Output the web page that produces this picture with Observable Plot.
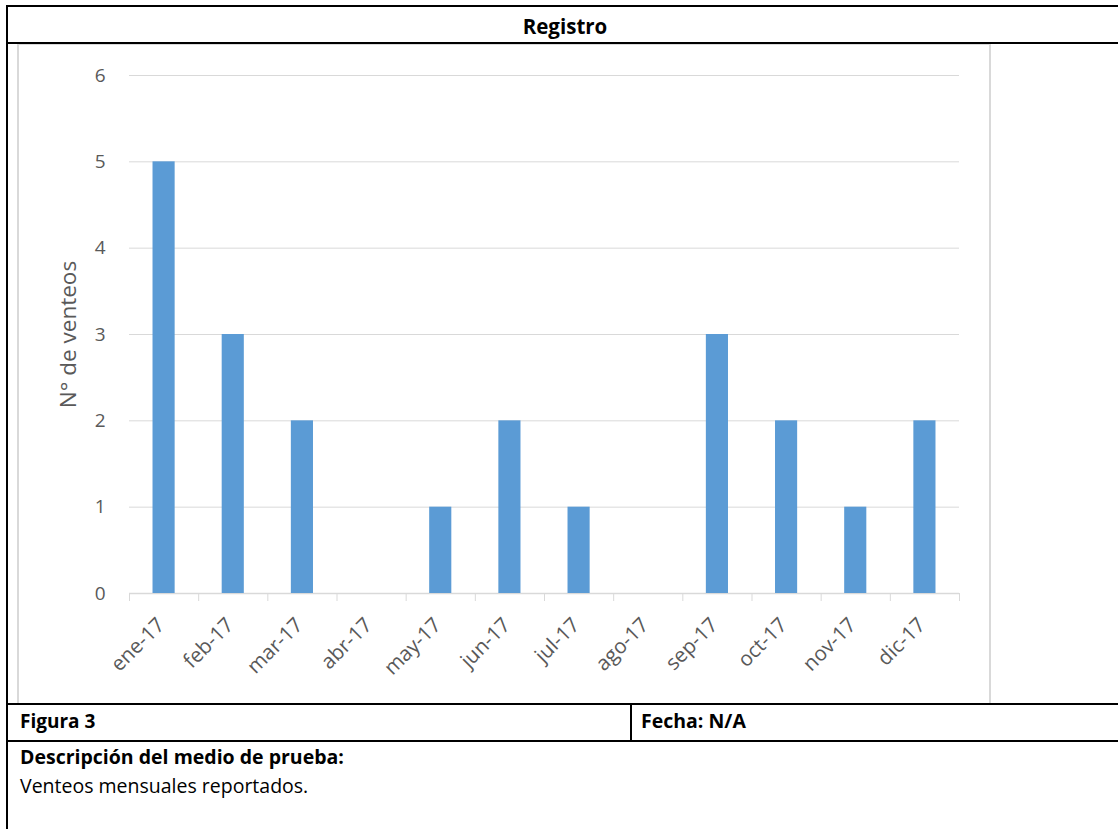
<!DOCTYPE html>
<html>
<head>
<meta charset="utf-8">
<script src="https://cdn.jsdelivr.net/npm/d3@7"></script>
<script src="https://cdn.jsdelivr.net/npm/@observablehq/plot@0.6"></script>
<style>
  html, body { margin: 0; padding: 0; background: #fff; }
  #page { position: relative; width: 1118px; height: 829px; overflow: hidden; font-family: "Open Sans", Lato, sans-serif; color: #000; }
  .hl { position: absolute; background: #000; height: 2px; }
  .vl { position: absolute; background: #000; width: 2px; }
  .txt { position: absolute; font-size: 20px; line-height: 22px; height: 22px; white-space: nowrap; }
  .b { font-weight: bold; }
  #chart { position: absolute; left: 17px; top: 44px; width: 970px; height: 658px; border: 2px solid #d9d9d9; border-top-width: 1px; box-sizing: content-box; }
  #chart svg { display: block; }
</style>
</head>
<body>
<div id="page">
  <div class="hl" style="left:6px; top:5px; width:1112px;"></div>
  <div class="vl" style="left:6px; top:5px; height:824px;"></div>
  <div class="hl" style="left:6px; top:42px; width:1112px;"></div>
  <div class="txt b" style="left:0; width:1130px; text-align:center; top:15px; font-size:20.5px;">Registro</div>
  <div id="chart"></div>
  <div class="hl" style="left:6px; top:703px; width:1112px;"></div>
  <div class="vl" style="left:630px; top:703px; height:39px;"></div>
  <div class="hl" style="left:6px; top:740px; width:1112px;"></div>
  <div class="txt b" style="left:20px; top:710px; font-size:19px;">Figura 3</div>
  <div class="txt b" style="left:641px; top:710px; font-size:19.5px;">Fecha: N/A</div>
  <div class="txt b" style="left:20px; top:746px; font-size:19.5px;">Descripción del medio de prueba:</div>
  <div class="txt" style="left:20px; top:775px; font-size:19.5px;">Venteos mensuales reportados.</div>
</div>
<script>
const months = ["ene-17","feb-17","mar-17","abr-17","may-17","jun-17","jul-17","ago-17","sep-17","oct-17","nov-17","dic-17"];
const venteos = [5, 3, 2, 0, 1, 2, 1, 0, 3, 2, 1, 2];
const yTicks = [0, 1, 2, 3, 4, 5, 6];
const yLabel = "N° de venteos";

const data = months.map((m, i) => ({m, i, v: venteos[i]}));
const bounds = d3.range(months.length + 1);
const font = "'Open Sans', Lato, sans-serif";

const chart = Plot.plot({
  width: 970,
  height: 658,
  marginLeft: 110,
  marginRight: 30,
  marginTop: 30,
  marginBottom: 110,
  style: { fontFamily: font, background: "#fff", overflow: "visible" },
  x: { domain: [0, months.length], axis: null },
  y: { domain: [0, 6], axis: null },
  marks: [
    Plot.gridY(yTicks, { stroke: "#d9d9d9", strokeOpacity: 1, strokeWidth: 1 }),
    Plot.axisX(bounds, { tickFormat: () => "", tickSize: 8, stroke: "#d9d9d9", strokeOpacity: 1, strokeWidth: 1 }),
    Plot.ruleY([0], { stroke: "#d9d9d9", strokeWidth: 1.5 }),
    Plot.rectY(data.filter(d => d.v > 0), { x1: d => d.i + 0.34, x2: d => d.i + 0.66, y: "v", fill: "#5b9bd5" }),
    Plot.axisY(yTicks, { tickSize: 0, tickPadding: 24, fontSize: 19, fill: "#595959", label: null, tickFormat: d => String(d) }),
    Plot.text(data, { x: d => d.i + 0.5, y: () => 0, text: "m", rotate: -45, textAnchor: "end", lineAnchor: "middle", dx: -3, dy: 28, fontSize: 20.5, fill: "#595959" }),
    Plot.text([yLabel], { frameAnchor: "left", textAnchor: "middle", rotate: -90, dx: -61, fontSize: 22.5, fill: "#595959" })
  ]
});
document.getElementById("chart").appendChild(chart);
</script>
</body>
</html>
